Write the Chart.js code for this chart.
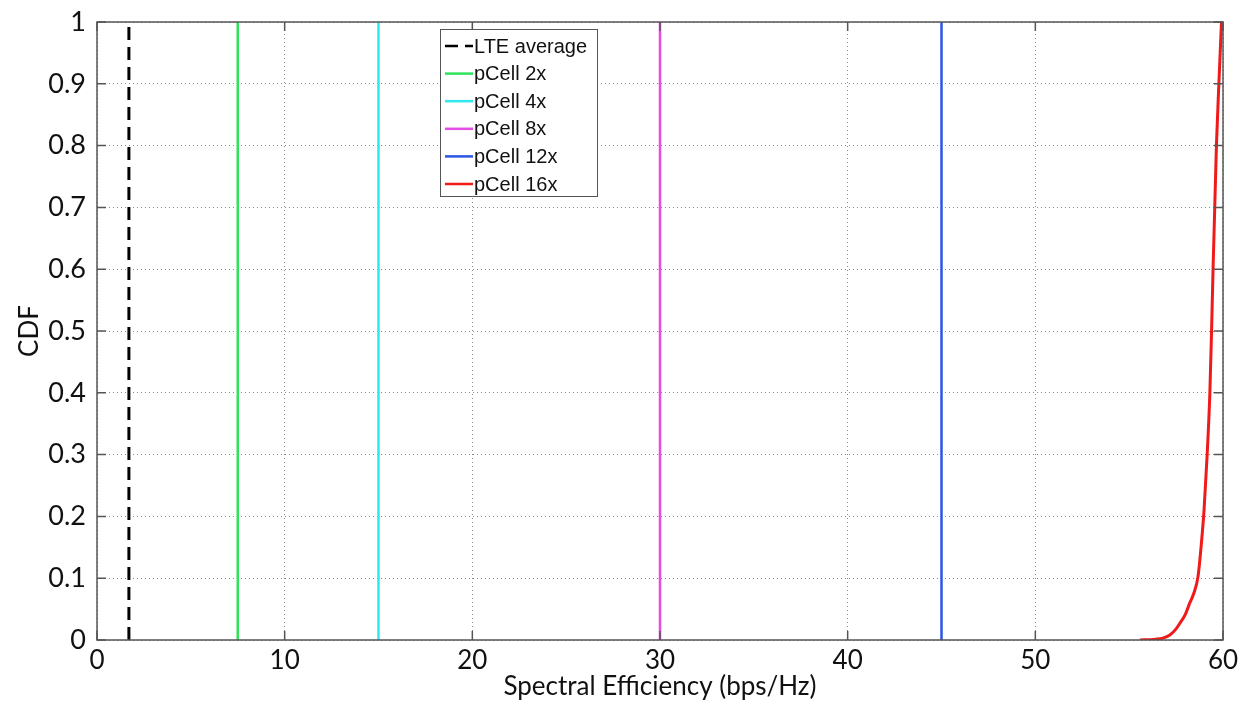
<!DOCTYPE html>
<html>
<head>
<meta charset="utf-8">
<script src="https://cdn.jsdelivr.net/npm/chart.js@4/dist/chart.umd.min.js"></script>
<style>
  html, body { margin: 0; padding: 0; background: #fff; }
  #wrap { width: 1249px; height: 709px; }
</style>
</head>
<body>
<div id="wrap"><canvas id="cdfChart" width="1249" height="709"></canvas></div>
<script>
// vertical lines (constant spectral efficiency)
const seriesLabels = ['LTE average', 'pCell 2x', 'pCell 4x', 'pCell 8x', 'pCell 12x', 'pCell 16x'];
const lteAvg = 1.7;
const pCell2x = 7.5;
const pCell4x = 15;
const pCell8x = 30;
const pCell12x = 45;

// pCell 16x CDF curve
const pCell16xSE = [55.57, 56.3, 56.8, 57.17, 57.5, 57.7, 58.0, 58.23, 58.45, 58.67, 58.85, 58.99, 59.16, 59.3, 59.39, 59.47, 59.56, 59.65, 59.78, 59.92];
const pCell16xCDF = [0, 0.001, 0.003, 0.008, 0.018, 0.027, 0.042, 0.06, 0.076, 0.103, 0.157, 0.21, 0.302, 0.4, 0.5, 0.6, 0.7, 0.8, 0.9, 1.0];

const xTicks = [0, 10, 20, 30, 40, 50, 60];
const yTicks = [0, 0.1, 0.2, 0.3, 0.4, 0.5, 0.6, 0.7, 0.8, 0.9, 1];

const colors = ['#000000', '#2ee35a', '#2ee8ee', '#e44de4', '#2a55e5', '#f01a1a'];

function vline(x) {
    return [{ x: x, y: 0 }, { x: x, y: 1 }];
}

const curve = pCell16xSE.map((x, i) => ({ x: x, y: pCell16xCDF[i] }));

// Box with inward tick marks, MATLAB style
const boxPlugin = {
    id: 'box',
    afterDraw(chart) {
        const { ctx, chartArea: a, scales } = chart;
        ctx.save();
        ctx.strokeStyle = '#555';
        ctx.lineWidth = 1.5;
        ctx.beginPath();
        xTicks.forEach(v => {
            const px = scales.x.getPixelForValue(v);
            ctx.moveTo(px, a.bottom); ctx.lineTo(px, a.bottom - 9);
            ctx.moveTo(px, a.top); ctx.lineTo(px, a.top + 9);
        });
        yTicks.forEach(v => {
            const py = scales.y.getPixelForValue(v);
            ctx.moveTo(a.left, py); ctx.lineTo(a.left + 9, py);
            ctx.moveTo(a.right, py); ctx.lineTo(a.right - 9, py);
        });
        ctx.stroke();
        ctx.strokeRect(a.left, a.top, a.right - a.left, a.bottom - a.top);
        ctx.restore();
    }
};

// Legend drawn inside the plot area
const legendPlugin = {
    id: 'innerLegend',
    afterDraw(chart) {
        const { ctx } = chart;
        const left = 440, top = 29, w = 157, h = 167;
        ctx.save();
        ctx.fillStyle = '#fff';
        ctx.fillRect(left, top, w, h);
        ctx.strokeStyle = '#555';
        ctx.lineWidth = 1;
        ctx.strokeRect(left + 0.5, top + 0.5, w, h);
        ctx.font = '20px "Liberation Sans", Arial, sans-serif';
        ctx.textBaseline = 'middle';
        chart.data.datasets.forEach((ds, i) => {
            const y = top + 17 + i * 27.6;
            ctx.strokeStyle = ds.borderColor;
            ctx.lineWidth = 2.5;
            ctx.setLineDash(ds.borderDash || []);
            ctx.beginPath();
            ctx.moveTo(445, y); ctx.lineTo(473, y);
            ctx.stroke();
            ctx.setLineDash([]);
            ctx.fillStyle = '#111';
            ctx.fillText(ds.label, 474, y + 1);
        });
        ctx.restore();
    }
};

const ctx = document.getElementById('cdfChart').getContext('2d');
new Chart(ctx, {
    type: 'line',
    data: {
        datasets: [
            { label: seriesLabels[0], data: vline(lteAvg), borderColor: colors[0], borderWidth: 3, borderDash: [13, 7] },
            { label: seriesLabels[1], data: vline(pCell2x), borderColor: colors[1], borderWidth: 2.5 },
            { label: seriesLabels[2], data: vline(pCell4x), borderColor: colors[2], borderWidth: 2.5 },
            { label: seriesLabels[3], data: vline(pCell8x), borderColor: colors[3], borderWidth: 2.5 },
            { label: seriesLabels[4], data: vline(pCell12x), borderColor: colors[4], borderWidth: 2.5 },
            { label: seriesLabels[5], data: curve, borderColor: colors[5], borderWidth: 3, cubicInterpolationMode: 'monotone' }
        ]
    },
    options: {
        responsive: false,
        animation: false,
        elements: { point: { radius: 0 } },
        layout: { padding: { top: 22, right: 26, left: 0, bottom: 0 } },
        plugins: {
            legend: { display: false },
            tooltip: { enabled: false }
        },
        scales: {
            x: {
                type: 'linear',
                min: 0,
                max: 60,
                afterBuildTicks: s => { s.ticks = xTicks.map(v => ({ value: v })); },
                afterFit: s => { s.height = 69; s.paddingLeft = 0; s.paddingRight = 0; },
                grid: { color: '#888', lineWidth: 1, drawTicks: false },
                border: { display: false, dash: [1, 3] },
                ticks: { color: '#111', padding: 5, font: { family: 'Lato', size: 26 }, callback: v => String(v) },
                title: {
                    display: true,
                    text: 'Spectral Efficiency (bps/Hz)',
                    color: '#111',
                    font: { family: 'Lato', size: 26 },
                    padding: { top: 0, bottom: 7 }
                }
            },
            y: {
                type: 'linear',
                min: 0,
                max: 1,
                afterBuildTicks: s => { s.ticks = yTicks.map(v => ({ value: v })); },
                afterFit: s => { s.width = 97; s.paddingTop = 0; s.paddingBottom = 0; },
                grid: { color: '#888', lineWidth: 1, drawTicks: false },
                border: { display: false, dash: [1, 3] },
                ticks: { color: '#111', padding: 11, font: { family: 'Lato', size: 27 }, callback: v => String(v) },
                title: {
                    display: true,
                    text: 'CDF',
                    color: '#111',
                    font: { family: 'Lato', size: 26 },
                    padding: { top: 14, bottom: 0 }
                }
            }
        }
    },
    plugins: [boxPlugin, legendPlugin]
});
</script>
</body>
</html>
